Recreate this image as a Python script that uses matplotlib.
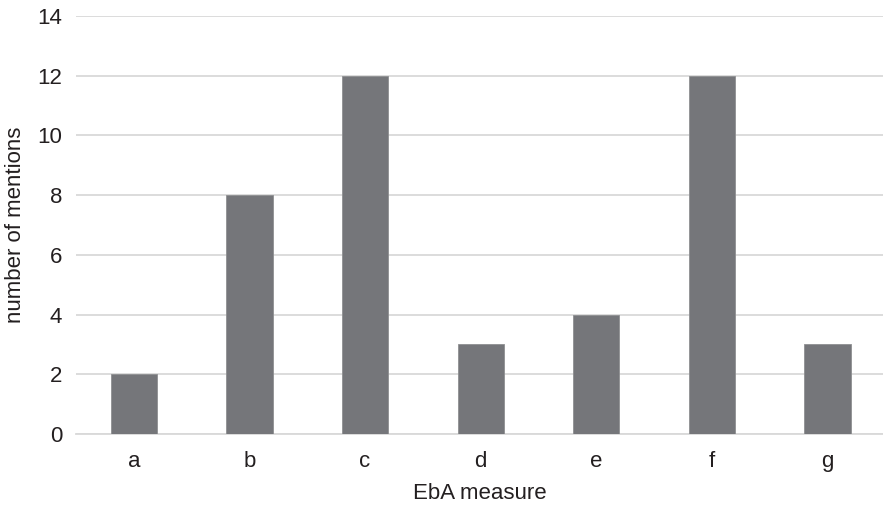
import matplotlib
matplotlib.use("Agg")
import matplotlib.pyplot as plt

categories = ["a", "b", "c", "d", "e", "f", "g"]
mentions = [2, 8, 12, 3, 4, 12, 3]
yticks = [0, 2, 4, 6, 8, 10, 12, 14]

plt.rcParams['font.family'] = ['Liberation Sans', 'DejaVu Sans']

fig = plt.figure(figsize=(8.83, 5.08), dpi=100)
ax = fig.add_axes([0.0861, 0.1457, 0.9139, 0.8228])

x = list(range(len(categories)))
ax.bar(x, mentions, width=0.4, color="#75767a", edgecolor="#8e8f92", linewidth=0.6, zorder=3)

ax.set_xlim(-0.5, 6.48)
ax.set_ylim(0, 14)
ax.set_yticks(yticks)
ax.set_xticks(x)
ax.set_xticklabels(categories)
ax.grid(axis="y", color="#d9d9d9", linewidth=1.3, zorder=0)
ax.set_axisbelow(True)
for s in ["top", "right", "left"]:
    ax.spines[s].set_visible(False)
ax.spines["bottom"].set_color("#d9d9d9")
ax.spines["bottom"].set_linewidth(1.3)
ax.tick_params(axis="both", length=0, labelsize=16, colors="#231f20")
ax.tick_params(axis="y", pad=10)
ax.tick_params(axis="x", pad=12)
ax.set_xlabel("EbA measure", fontsize=16, color="#231f20", labelpad=8)
ax.set_ylabel("number of mentions", fontsize=16, color="#231f20")
ax.yaxis.set_label_coords(-(76 - 26) / 807, 0.5)

fig.savefig("out.png", dpi=100)
